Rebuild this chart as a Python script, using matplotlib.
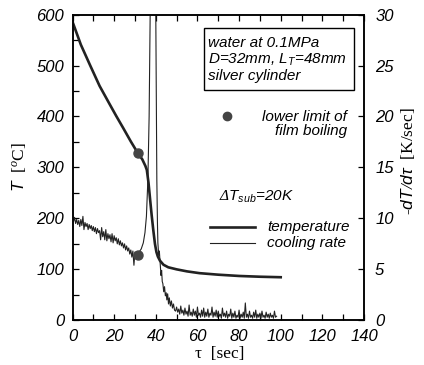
import numpy as np
import matplotlib
matplotlib.use("Agg")
import matplotlib.pyplot as plt
from matplotlib.ticker import MultipleLocator

plt.rcParams['font.family'] = 'Liberation Sans'
plt.rcParams['font.style'] = 'italic'
plt.rcParams['mathtext.fontset'] = 'custom'
plt.rcParams['mathtext.it'] = 'Liberation Sans:italic'
plt.rcParams['mathtext.rm'] = 'Liberation Serif'
plt.rcParams['mathtext.sf'] = 'Liberation Sans'

# temperature history [sec, degC]
temp_t = [0, 4, 8.4, 13, 18, 21, 24.4, 28, 31.4, 33.5, 35, 35.7, 36.5, 37.3, 38, 38.8,
          39.6, 40.3, 41, 42, 43.7, 46, 50, 55, 61, 70, 80, 90, 100]
temp_v = [586, 541, 501, 460, 423, 401, 377, 351, 328, 316, 303, 295, 270, 236, 207, 177,
          150, 134, 125, 117, 109, 104, 100, 96, 92.5, 89.5, 87, 85.5, 84.5]

# cooling rate [K/sec], film boiling part (sampled every 0.5 s from 0 to 31 s)
rate_film = [10.4, 9.7, 10.1, 9.5, 9.9, 9.4, 9.8, 9.2, 9.9, 9.3, 10.2, 8.9, 9.6, 9.2, 9.5, 8.9,
             9.4, 9.0, 9.3, 8.8, 9.2, 8.7, 9.1, 8.5, 9.0, 8.6, 8.8, 7.9, 9.1, 8.2, 8.7, 7.9,
             8.9, 7.8, 8.5, 8.0, 8.4, 7.7, 8.5, 7.6, 8.3, 7.8, 8.1, 7.5, 8.0, 7.4, 7.8, 7.3,
             7.6, 7.1, 7.5, 6.9, 7.3, 6.8, 7.1, 6.5, 6.9, 6.2, 6.8, 5.4, 6.7, 6.3, 6.5]
# transition / nucleate boiling
rate_tr_t = [31.4, 32, 33, 34, 34.8, 35.5, 36.2, 36.8, 37.3, 38.6, 40.0, 40.3, 40.5, 40.8,
             41.0, 41.4, 41.7, 42.1, 42.5, 42.8, 43.1, 43.4, 43.8, 44.2, 44.6, 45.0, 45.3,
             45.7, 46.1, 46.5, 47, 47.5, 48, 48.5, 49]
rate_tr_v = [6.4, 6.7, 7.0, 7.6, 8.6, 10.2, 13.8, 20, 30, 42, 30, 20, 13.8, 9.5,
             7.6, 6.4, 6.8, 5.6, 4.4, 4.9, 3.8, 3.6, 2.8, 3.3, 2.4, 2.7, 2.0,
             2.6, 1.6, 2.2, 1.4, 1.9, 1.2, 1.6, 1.0]
# tail (sampled every 0.5 s from 49.5 to 98 s)
rate_tail = [0.9, 1.3, 0.8, 1.1, 0.6, 1.4, 0.7, 1.0, 0.5, 1.2, 0.6, 0.9, 0.4, 1.5, 0.5, 0.8,
             0.4, 1.1, 0.5, 0.9, 0.3, 1.3, 0.5, 0.7, 0.3, 1.0, 0.4, 1.2, 0.3, 0.8, 0.4, 1.1,
             0.3, 0.7, 0.5, 1.3, 0.3, 0.8, 0.4, 1.0, 0.3, 0.9, 0.4, 0.6, 0.2, 1.2, 0.4, 0.7,
             0.3, 0.9, 0.2, 0.6, 0.4, 1.1, 0.2, 0.7, 0.3, 0.9, 0.2, 0.5, 0.3, 1.0, 0.2, 0.6,
             0.3, 0.8, 0.2, 1.7, 0.3, 0.6, 0.2, 0.9, 0.3, 0.5, 0.2, 0.8, 0.3, 1.0, 0.2, 0.6,
             0.3, 0.7, 0.2, 0.9, 0.3, 0.5, 0.2, 0.8, 0.3, 0.6, 0.2, 0.7, 0.3, 0.5, 0.2, 0.9,
             0.3, 0.4]

# lower limit of film boiling
mfb_t = 31.4
mfb_T = 328
mfb_rate = 6.4

rate_t = np.concatenate([np.arange(len(rate_film)) * 0.5, rate_tr_t[1:],
                         49.5 + np.arange(len(rate_tail)) * 0.5])
rate_v = np.concatenate([rate_film, rate_tr_v[1:], rate_tail])

fig = plt.figure(figsize=(4.24, 3.65), dpi=100)
ax = fig.add_axes([0.171, 0.1225, 0.6875, 0.8375])
ax2 = ax.twinx()

ax.plot(temp_t, temp_v, color='#222222', lw=1.9, zorder=3)
ax.plot([mfb_t], [mfb_T], 'o', color='#444444', ms=6.5, zorder=4)
ax2.plot(rate_t, rate_v, color='#222222', lw=0.8)
ax2.plot([mfb_t], [mfb_rate], 'o', color='#444444', ms=6.5)

ax.set_xlim(0, 140)
ax.set_ylim(0, 600)
ax2.set_ylim(0, 30)

ax.xaxis.set_major_locator(MultipleLocator(20))
ax.xaxis.set_minor_locator(MultipleLocator(10))
ax.yaxis.set_major_locator(MultipleLocator(100))
ax.yaxis.set_minor_locator(MultipleLocator(50))
ax2.yaxis.set_major_locator(MultipleLocator(5))
ax.tick_params(which='both', direction='in', length=4.5, width=0.9, top=True,
               labelsize=12, pad=6)
ax.tick_params(axis='x', pad=6)
ax2.tick_params(direction='in', length=4.5, width=0.9, labelsize=12, pad=8)
for a in (ax, ax2):
    for s in a.spines.values():
        s.set_linewidth(1.1)

ax.set_xlabel('τ  [sec]', family='Liberation Serif', style='normal', fontsize=12.5)
ax.set_ylabel(r'$T$  [$^{\rm o}$C]', family='Liberation Serif', style='normal',
              fontsize=12.5)
ax2.set_ylabel('-' + r'$dT/d\tau$  [K/sec]', family='Liberation Serif', style='normal',
               fontsize=12.5)
for lab in (ax.xaxis.label, ax.yaxis.label, ax2.yaxis.label):
    lab.set_va('center')
    lab.set_ha('center')
ax.xaxis.set_label_coords(0.506, -0.11)
ax.yaxis.set_label_coords(-0.18, 0.5)
ax2.yaxis.set_label_coords(1.15, 0.52)

# info box
ax.add_patch(plt.Rectangle((63.2, 452), 72.1, 122, fill=True, fc='white', ec='black',
                           lw=1.0, zorder=5))
ax.text(65.3, 512, 'water at 0.1MPa\nD=32mm, L$_T$=48mm\nsilver cylinder',
        fontsize=11, va='center', ha='left', linespacing=1.12, zorder=6)

ax.plot([74.3], [401], 'o', color='#444444', ms=6, clip_on=False)
ax.text(132, 385, 'lower limit of\nfilm boiling', fontsize=11, ha='right',
        va='center', multialignment='right', linespacing=1.05)

ax.text(70.4, 242, r'$\Delta T_{sub}$=20K', fontsize=11, va='center', ha='left')

ax.plot([66.1, 87.7], [183, 183], color='#222222', lw=1.9)
ax.plot([66.1, 87.7], [152, 152], color='#222222', lw=0.8)
ax.text(93.5, 183, 'temperature', fontsize=11, va='center')
ax.text(93.5, 152, 'cooling rate', fontsize=11, va='center')

fig.savefig('out.png', dpi=100)
